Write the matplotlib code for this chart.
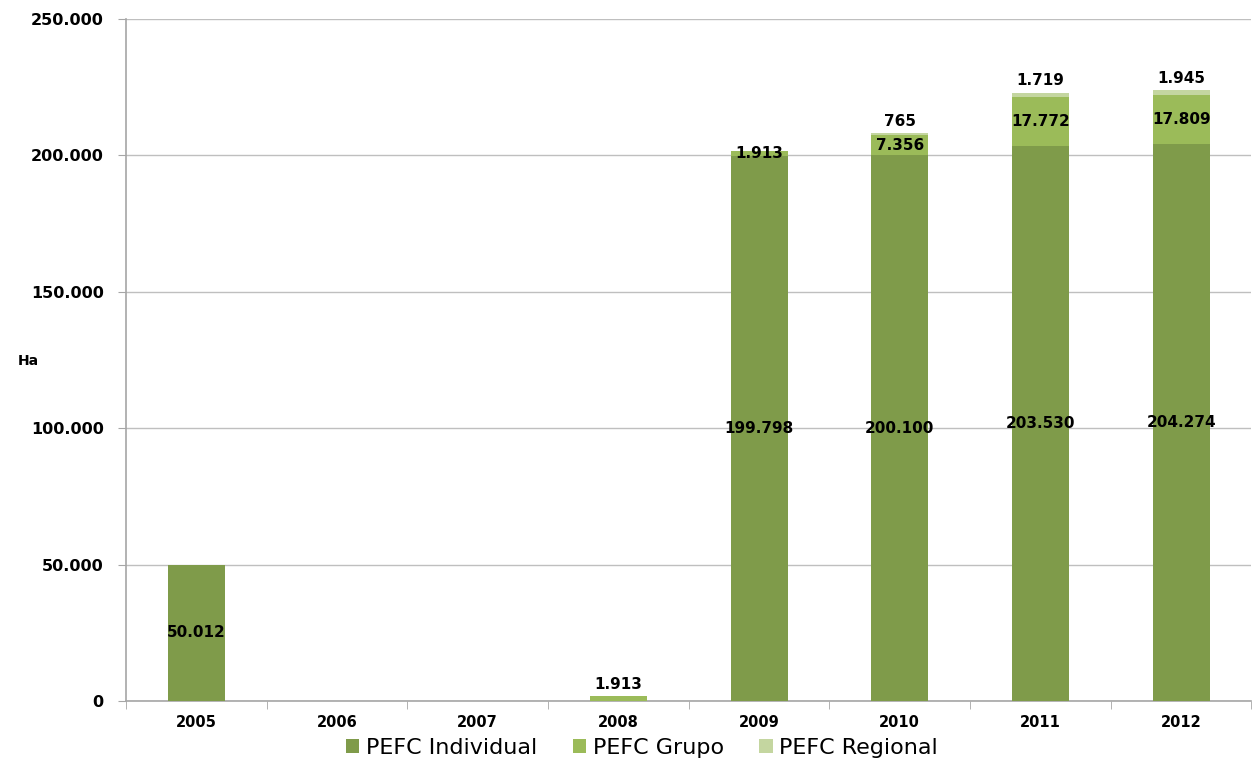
import matplotlib
matplotlib.use("Agg")
import matplotlib.pyplot as plt
import numpy as np

years = ["2005", "2006", "2007", "2008", "2009", "2010", "2011", "2012"]
individual = [50012, 0, 0, 0, 199798, 200100, 203530, 204274]
grupo = [0, 0, 0, 1913, 1913, 7356, 17772, 17809]
regional = [0, 0, 0, 0, 0, 765, 1719, 1945]
series_names = ["PEFC Individual", "PEFC Grupo", "PEFC Regional"]
colors = ["#7F9B4A", "#9BBB59", "#C4D6A0"]


def fmt(v):
    return "{:,.0f}".format(v).replace(",", ".")


plt.rcParams["font.family"] = ["DejaVu Sans"]

fig = plt.figure(figsize=(12.54, 7.69), dpi=100)
ax = fig.add_axes([0.1005, 0.0884, 0.8975, 0.887])

x = np.arange(len(years))
w = 0.405
ind = np.array(individual)
gru = np.array(grupo)
reg = np.array(regional)

ax.bar(x, ind, w, color=colors[0], label=series_names[0], zorder=3)
ax.bar(x, gru, w, bottom=ind, color=colors[1], label=series_names[1], zorder=3)
ax.bar(x, reg, w, bottom=ind + gru, color=colors[2], label=series_names[2], zorder=3)

lab = dict(fontsize=11, fontweight="bold", ha="center", color="#000000", zorder=4)
for i in range(len(years)):
    if ind[i] > 0:
        ax.text(x[i], ind[i] / 2, fmt(ind[i]), va="center", **lab)
    if gru[i] > 0:
        if ind[i] > 0:
            ax.text(x[i], ind[i] + gru[i] / 2, fmt(gru[i]), va="center", **lab)
        else:
            ax.text(x[i], gru[i] + 1500, fmt(gru[i]), va="bottom", **lab)
    if reg[i] > 0:
        ax.text(x[i], ind[i] + gru[i] + reg[i] + 1500, fmt(reg[i]), va="bottom", **lab)

ax.set_xlim(-0.5, len(years) - 0.5)
ax.set_ylim(0, 250000)
ax.set_yticks(np.arange(0, 250001, 50000))
ax.set_yticklabels([fmt(v) for v in np.arange(0, 250001, 50000)],
                   fontsize=11.5, fontweight="bold")
ax.set_xticks(x)
ax.set_xticklabels(years, fontsize=10.5, fontweight="bold")
ax.set_xticks(np.arange(-0.5, len(years)), minor=True)
ax.tick_params(axis="x", which="major", length=0, pad=10)
ax.tick_params(axis="x", which="minor", length=6, color="#A6A6A6", direction="out")
ax.tick_params(axis="y", length=6, color="#A6A6A6", pad=10)

ax.grid(axis="y", color="#BFBFBF", linewidth=1, zorder=0)
for s in ["top", "right"]:
    ax.spines[s].set_visible(False)
for s in ["left", "bottom"]:
    ax.spines[s].set_color("#A6A6A6")
    ax.spines[s].set_linewidth(1.2)

fig.text(0.014, 0.53, "Ha", fontsize=10, fontweight="bold", ha="left", va="center")

fig.legend(loc="lower center", bbox_to_anchor=(0.512, -0.012), ncol=3, frameon=False,
           fontsize=16, handlelength=0.6, handleheight=0.6, handletextpad=0.3,
           columnspacing=1.6)

fig.savefig("out.png", dpi=100)
